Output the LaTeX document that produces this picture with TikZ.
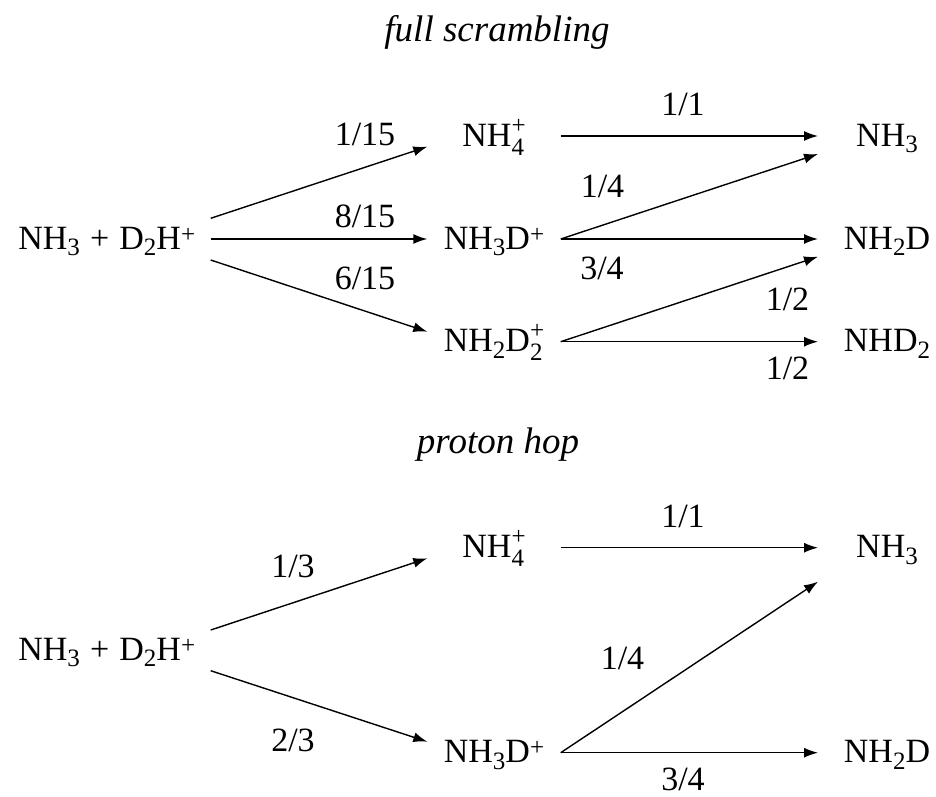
\documentclass[tikz,border=0pt]{standalone}
\usepackage{fontspec}
\setmainfont{Liberation Serif}
\usetikzlibrary{arrows.meta}
\newcommand\sbs[1]{\raisebox{-6.5pt}{\fontsize{25}{25}\selectfont #1}}
\newcommand\sps[1]{\raisebox{6.8pt}{\fontsize{25}{25}\selectfont #1}}
\newcommand\sbsp[2]{\rlap{\raisebox{-9pt}{\fontsize{25}{25}\selectfont #1}}\raisebox{13pt}{\fontsize{25}{25}\selectfont #2}}
\tikzset{
  sp/.style={inner sep=0pt, outer sep=0pt, text height=22pt, text depth=2pt,
    font=\fontsize{34}{40}\selectfont},
  lcol/.style={sp, minimum width=208pt},
  mcol/.style={sp, minimum width=133.4pt},
  rcol/.style={sp, minimum width=138pt},
  lab/.style={inner sep=0pt, font=\fontsize{34}{40}\selectfont},
  ttl/.style={inner sep=0pt, anchor=base, font=\fontsize{37}{44}\selectfont\itshape},
  arr/.style={line width=1.4pt, -{Latex[length=14pt,width=10pt]}}
}
\begin{document}
\begin{tikzpicture}[x=1pt,y=-1pt]
\useasboundingbox (0,0) rectangle (936,796);
% ---------- full scrambling ----------
\node[ttl] (t1) at (497,41.7) {full scrambling};
\node[lcol] (r1) at (106.7,239) {NH\sbs{3}\hspace{0.3em}+\hspace{0.3em}D\sbs{2}H\sps{+}};
\node[mcol] (m1) at (494,136) {NH\sbsp{4}{+}};
\node[mcol] (m2) at (494,239) {NH\sbs{3}D\sps{+}};
\node[mcol] (m3) at (494,341.7) {NH\sbs{2}D\sbsp{2}{+}};
\node[rcol] (e1) at (887,136) {NH\sbs{3}};
\node[rcol] (e2) at (887,239) {NH\sbs{2}D};
\node[rcol] (e3) at (887,341.7) {NHD\sbs{2}};
\draw[arr] ([yshift=20.7pt]r1.east) -- ([yshift=-10.7pt]m1.west);
\draw[arr] (r1.east) -- (m2.west);
\draw[arr] ([yshift=-21pt]r1.east) -- ([yshift=10pt]m3.west);
\draw[arr] (m1.east) -- (e1.west);
\draw[arr] (m2.east) -- ([yshift=-18pt]e1.west);
\draw[arr] (m2.east) -- (e2.west);
\draw[arr] (m3.east) -- ([yshift=-17.7pt]e2.west);
\draw[arr] (m3.east) -- (e3.west);
\node[lab] (l1) at (365,134) {1/15};
\node[lab] (l2) at (365,216) {8/15};
\node[lab] (l3) at (365,278) {6/15};
\node[lab] (l4) at (683,104) {1/1};
\node[lab] (l5) at (602.5,186.7) {1/4};
\node[lab] (l6) at (602,268) {3/4};
\node[lab] (l7) at (787.5,299) {1/2};
\node[lab] (l8) at (787.5,368) {1/2};
% ---------- proton hop ----------
\node[ttl] (t2) at (498,453) {proton hop};
\node[lcol] (r2) at (106.7,650) {NH\sbs{3}\hspace{0.3em}+\hspace{0.3em}D\sbs{2}H\sps{+}};
\node[mcol] (n1) at (494,547.7) {NH\sbsp{4}{+}};
\node[mcol] (n2) at (494,752.7) {NH\sbs{3}D\sps{+}};
\node[rcol] (f1) at (887,547.7) {NH\sbs{3}};
\node[rcol] (f2) at (887,752.7) {NH\sbs{2}D};
\draw[arr] ([yshift=20pt]r2.east) -- ([yshift=-10.6pt]n1.west);
\draw[arr] ([yshift=-20.7pt]r2.east) -- ([yshift=11pt]n2.west);
\draw[arr] (n1.east) -- (f1.west);
\draw[arr] (n2.east) -- ([yshift=-34pt]f1.west);
\draw[arr] (n2.east) -- (f2.west);
\node[lab] (k1) at (293,566) {1/3};
\node[lab] (k2) at (293,740) {2/3};
\node[lab] (k3) at (683,516) {1/1};
\node[lab] (k4) at (622.5,658) {1/4};
\node[lab] (k5) at (683,779.5) {3/4};
\end{tikzpicture}
\end{document}
